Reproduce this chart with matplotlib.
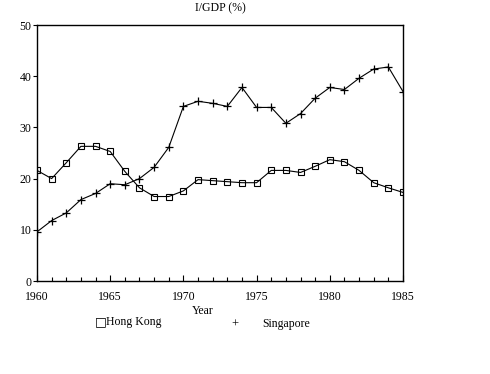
import matplotlib
matplotlib.use("Agg")
import matplotlib.pyplot as plt
from matplotlib.ticker import MultipleLocator

years = list(range(1960, 1986))
hong_kong = [21.6, 20.0, 23.1, 26.3, 26.3, 25.3, 21.4, 18.2, 16.5, 16.5, 17.6, 19.8, 19.6,
             19.4, 19.2, 19.2, 21.6, 21.6, 21.2, 22.4, 23.7, 23.3, 21.6, 19.2, 18.2, 17.3]
singapore = [9.6, 11.8, 13.3, 15.9, 17.1, 19.0, 18.8, 20.0, 22.2, 26.1, 34.1, 35.1, 34.7,
             34.1, 37.8, 33.9, 33.9, 30.8, 32.7, 35.7, 37.8, 37.4, 39.6, 41.4, 41.8, 37.0]
x_ticks = [1960, 1965, 1970, 1975, 1980, 1985]
y_ticks = [0, 10, 20, 30, 40, 50]

plt.rcParams['font.family'] = ['Liberation Serif', 'DejaVu Serif']

fig = plt.figure(figsize=(4.9, 3.74), dpi=100)
ax = fig.add_axes([37/490, 1 - 281/374, (403-37)/490, (281-25)/374])

ax.plot(years, hong_kong, color='black', lw=0.8, marker='s', ms=4.5,
        mfc='none', mec='black', mew=0.8)
ax.plot(years, singapore, color='black', lw=0.8, marker='+', ms=5.5, mew=0.9)

ax.set_xlim(1960, 1985)
ax.set_ylim(0, 50)
ax.set_xticks(x_ticks)
ax.xaxis.set_minor_locator(MultipleLocator(1))
ax.set_yticks(y_ticks)
ax.tick_params(axis='x', which='major', direction='in', length=4, width=0.8, labelsize=8.5, pad=7)
ax.tick_params(axis='x', which='minor', direction='in', length=3, width=0.8)
ax.tick_params(axis='y', direction='out', length=3, width=0.8, labelsize=8.5, pad=1)
for s in ax.spines.values():
    s.set_linewidth(1.0)
    s.set_color('black')

fig.text(220/490, 1 - 8/374, 'I/GDP (%)', ha='center', va='center', fontsize=8.5)
fig.text(203/490, 1 - 311/374, 'Year', ha='center', va='center', fontsize=8.5)

# legend
fig.text(95/490, 1 - 322/374, '\u25a1', ha='left', va='center', fontsize=9,
         family=['DejaVu Sans'])
fig.text(106/490, 1 - 322/374, 'Hong Kong', ha='left', va='center', fontsize=8.5)
fig.text(235/490, 1 - 325/374, '+', ha='center', va='center', fontsize=9)
fig.text(262/490, 1 - 324/374, 'Singapore', ha='left', va='center', fontsize=8.5)

fig.savefig('out.png', dpi=100, facecolor='white')
